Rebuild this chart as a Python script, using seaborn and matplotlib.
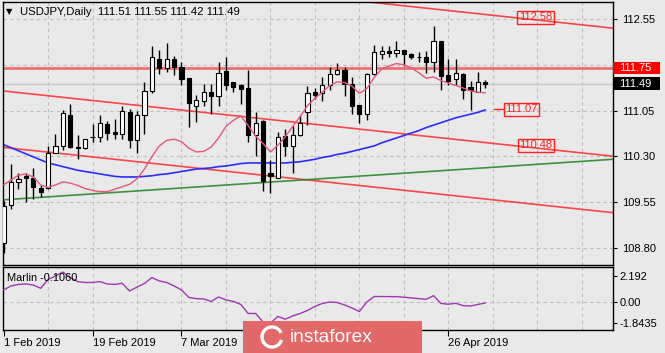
import numpy as np
import pandas as pd
import matplotlib
matplotlib.use("Agg")
import matplotlib.pyplot as plt
import matplotlib.transforms as mtransforms
from matplotlib.patches import Rectangle, Arc
import seaborn as sns

# ---------------- data ----------------
dates = pd.bdate_range("2019-02-01", "2019-05-03")
opens = [108.87, 109.50, 109.87, 109.97, 109.95, 109.78, 109.78, 110.35, 110.47, 110.98,
         110.45, 110.44, 110.62, 110.62, 110.83, 110.70, 110.67, 111.03, 110.57, 110.97,
         111.37, 111.90, 111.74, 111.89, 111.76, 111.58, 111.12, 111.21, 111.35, 111.29,
         111.69, 111.51, 111.46, 111.42, 110.65, 110.87, 110.03, 109.95, 110.63, 110.46,
         110.65, 111.02, 111.35, 111.34, 111.47, 111.65, 111.72, 111.48, 111.14, 111.00,
         111.65, 111.97, 112.02, 112.00, 112.04, 111.98, 111.93, 111.92, 111.85, 112.19,
         111.63, 111.56, 111.65, 111.43, 111.36, 111.51]
highs = [109.57, 110.18, 110.03, 110.03, 110.10, 109.83, 110.47, 110.67, 111.06, 111.15,
         110.65, 110.59, 110.83, 110.97, 110.87, 110.91, 111.13, 111.07, 111.05, 111.51,
         112.10, 112.05, 112.16, 111.94, 111.84, 111.58, 111.31, 111.48, 111.49, 111.84,
         111.92, 111.51, 111.48, 111.71, 111.02, 110.90, 110.24, 110.70, 110.75, 110.80,
         110.97, 111.45, 111.42, 111.60, 111.76, 111.83, 111.76, 111.60, 111.14, 111.67,
         112.12, 112.10, 112.10, 112.19, 112.04, 111.99, 112.01, 112.03, 112.43, 112.19,
         111.90, 111.90, 111.67, 111.54, 111.68, 111.55]
lows = [108.71, 109.43, 109.76, 109.55, 109.60, 109.64, 109.77, 110.35, 110.41, 110.44,
        110.25, 110.42, 110.53, 110.54, 110.56, 110.58, 110.58, 110.44, 110.35, 110.67,
        111.33, 111.65, 111.68, 111.63, 111.47, 110.78, 110.86, 111.13, 111.00, 111.13,
        111.38, 111.35, 111.16, 110.54, 110.30, 109.73, 109.70, 109.95, 110.30, 110.03,
        110.64, 110.82, 111.24, 111.21, 111.38, 111.64, 111.29, 111.00, 110.85, 110.90,
        111.63, 111.90, 111.93, 111.93, 111.78, 111.90, 111.85, 111.67, 111.68, 111.38,
        111.46, 111.46, 111.24, 111.06, 111.35, 111.42]
closes = [109.48, 109.87, 109.93, 109.95, 109.80, 109.72, 110.36, 110.46, 111.01, 110.45,
          110.44, 110.59, 110.61, 110.85, 110.68, 110.67, 111.05, 110.57, 110.98, 111.37,
          111.92, 111.74, 111.89, 111.76, 111.56, 111.17, 111.23, 111.35, 111.29, 111.67,
          111.47, 111.43, 111.41, 110.65, 110.85, 109.90, 109.98, 110.62, 110.46, 110.65,
          110.85, 111.34, 111.31, 111.47, 111.65, 111.72, 111.49, 111.13, 111.00, 111.65,
          112.01, 112.03, 112.00, 112.05, 111.97, 111.92, 111.92, 111.85, 112.19, 111.61,
          111.54, 111.66, 111.39, 111.38, 111.52, 111.49]
ma_fast = [109.83, 109.91, 109.99, 110.01, 109.96, 109.83, 109.79, 109.83, 109.88, 109.86,
           109.82, 109.77, 109.74, 109.72, 109.72, 109.76, 109.80, 109.84, 109.93, 110.09,
           110.29, 110.47, 110.56, 110.58, 110.54, 110.43, 110.37, 110.38, 110.45, 110.60,
           110.79, 110.89, 110.96, 110.80, 110.63, 110.51, 110.37, 110.48, 110.62, 110.79,
           110.95, 111.13, 111.25, 111.35, 111.46, 111.52, 111.51, 111.45, 111.33, 111.41,
           111.59, 111.73, 111.78, 111.82, 111.80, 111.75, 111.67, 111.58, 111.60, 111.54,
           111.50, 111.46, 111.42, 111.37, 111.35, 111.34]
ma_slow = [110.49, 110.44, 110.39, 110.34, 110.29, 110.24, 110.19, 110.16, 110.13, 110.10,
           110.07, 110.05, 110.03, 110.01, 109.99, 109.97, 109.96, 109.96, 109.96, 109.97,
           109.98, 110.00, 110.01, 110.03, 110.05, 110.07, 110.09, 110.10, 110.11, 110.13,
           110.14, 110.16, 110.18, 110.19, 110.19, 110.19, 110.19, 110.19, 110.19, 110.20,
           110.21, 110.23, 110.25, 110.28, 110.30, 110.33, 110.35, 110.38, 110.41, 110.44,
           110.47, 110.52, 110.56, 110.60, 110.64, 110.68, 110.72, 110.77, 110.81, 110.85,
           110.89, 110.93, 110.96, 110.99, 111.02, 111.06]
marlin = [1.00, 1.34, 1.47, 1.51, 1.42, 1.14, 1.89, 2.19, 2.53, 2.06,
          1.71, 1.64, 1.64, 1.71, 1.51, 1.47, 1.57, 0.91, 1.25, 1.55,
          2.06, 1.77, 1.64, 1.34, 1.00, 0.36, 0.26, 0.23, 0.02, 0.40,
          0.15, 0.02, -0.24, -1.01, -1.01, -1.73, -1.84, -1.26, -1.50, -1.22,
          -1.01, -0.75, -0.41, -0.15, -0.03, -0.07, -0.28, -0.54, -0.84, -0.03,
          0.44, 0.44, 0.43, 0.43, 0.38, 0.32, 0.26, 0.20, 0.51, -0.15,
          -0.22, -0.14, -0.34, -0.37, -0.24, -0.106]

# trend lines: value at bar index line_idx[0] and line_idx[1]
line_idx = [0, 82.2]
upper_channel = [113.47, 112.40]
middle_channel = [111.37, 110.30]
lower_channel = [110.445, 109.375]
support_line = [109.586, 110.25]
resistance_level = 111.75
bid_price = 111.49
label_values = [112.58, 111.07, 110.48]

price_ticks = [108.80, 109.55, 110.30, 111.05, 111.80, 112.55]
price_tick_labels = ["108.80", "109.55", "110.30", "111.05", "", "112.55"]  # 111.80 hidden under the 111.75 box
marlin_ticks = [2.192, 0.0, -1.8435]
marlin_tick_labels = ["2.192", "0.00", "-1.8435"]
date_tick_idx = [0, 12, 24, 60]
title = "USDJPY,Daily  111.51 111.55 111.42 111.49"

# ---------------- style ----------------
BG = "#e9e9e9"
sns.set_style("white", rc={"axes.facecolor": BG, "figure.facecolor": BG})
plt.rcParams["font.family"] = ["Liberation Sans", "DejaVu Sans"]

W, H = 665, 353
fig = plt.figure(figsize=(W / 100, H / 100), dpi=100)
fig.patch.set_facecolor(BG)


def px_axes(l, t, r, b):
    return fig.add_axes([l / W, 1 - b / H, (r - l) / W, (b - t) / H])


ax = px_axes(2.5, 2, 612.5, 265)
axi = px_axes(2.5, 267, 612.5, 330)
XMIN, XMAX = -0.15, 82.15
for a in (ax, axi):
    a.set_xlim(XMIN, XMAX)
    a.set_facecolor(BG)
    for s in a.spines.values():
        s.set_color("black")
        s.set_linewidth(1.0)
ax.set_ylim(108.517, 112.829)
axi.set_ylim(-2.42, 2.96)

GRID = dict(color="#bdbdbd", lw=0.8, ls=(0, (3, 3)), zorder=0)
for yv in price_ticks:
    ax.axhline(yv, **GRID)
for xv in range(6, 83, 6):
    ax.axvline(xv, **GRID)
    axi.axvline(xv, **GRID)
axi.axhline(0, **GRID)

# ---------------- candles ----------------
df = pd.DataFrame({"date": dates, "o": opens, "h": highs, "l": lows, "c": closes,
                   "fast": ma_fast, "slow": ma_slow, "marlin": marlin})
df["i"] = np.arange(len(df))
o, h, l, c = df.o.values, df.h.values, df.l.values, df.c.values
xi = df.i.values
up = c >= o
ax.vlines(xi, l, h, color="black", lw=1.0, zorder=3)
bottom = np.minimum(o, c)
height = np.maximum(np.abs(c - o), 0.004)
ax.bar(xi, height, bottom=bottom, width=0.56,
       color=np.where(up, "white", "black"), edgecolor="black", linewidth=0.8, zorder=4)

# ---------------- lines ----------------
ax.axhline(bid_price, color="#c6c6c6", lw=1.0, zorder=1)
ax.axhline(resistance_level, color="#f04848", lw=2.0, alpha=0.75, zorder=2)
for vals in (upper_channel, middle_channel, lower_channel):
    ax.plot(line_idx, vals, color="#ff2a2a", lw=1.2, alpha=0.85, zorder=2)
ax.plot(line_idx, support_line, color="#2a8a2a", lw=1.2, alpha=0.9, zorder=2)

sns.lineplot(data=df, x="i", y="slow", ax=ax, color="#2c2cff", lw=1.2, zorder=2, legend=False)
sns.lineplot(data=df, x="i", y="fast", ax=ax, color="#e5587a", lw=1.0, zorder=5, legend=False)
sns.lineplot(data=df, x="i", y="marlin", ax=axi, color="#a236b4", lw=1.0, zorder=3, legend=False)

# on-chart price labels
lab_pos = [71.8, 69.9, 71.8]
for v, xp in zip(label_values, lab_pos):
    ax.text(xp, v, f"{v:.2f}", color="#ff2020", fontsize=8, ha="center", va="center", zorder=8,
            bbox=dict(boxstyle="square,pad=0.15", fc="none", ec="#ff2020", lw=1.0))
ax.plot([66.1, 67.5], [label_values[1], label_values[1]], color="#ff2020", lw=1.0, zorder=8)

# ---------------- axes / ticks ----------------
ax.set_xlabel(""); ax.set_ylabel("")
axi.set_xlabel(""); axi.set_ylabel("")
ax.yaxis.tick_right()
ax.set_yticks(price_ticks)
ax.set_yticklabels(price_tick_labels)
ax.set_xticks([])
ax.tick_params(axis="y", which="both", right=True, left=False, length=3, width=0.8,
               direction="out", pad=4, labelsize=8, colors="black")

axi.yaxis.tick_right()
axi.set_yticks(marlin_ticks)
axi.set_yticklabels(marlin_tick_labels)
axi.tick_params(axis="y", right=True, left=False, length=3, width=0.8, direction="out",
                pad=2, labelsize=8, colors="black")
axi.set_xticks(date_tick_idx)
axi.set_xticklabels([f"{d.day} {d.strftime('%b %Y')}" for d in dates[date_tick_idx]])
axi.tick_params(axis="x", bottom=True, length=4, width=0.8, direction="out", pad=2,
                labelsize=8, colors="black")
for t in axi.get_xticklabels():
    t.set_ha("left")

# right-side price boxes
trans = mtransforms.blended_transform_factory(ax.transAxes, ax.transData)
bw = 47 / 610
bh = 12.5 / 61
for val, col in ((resistance_level, "#ff0000"), (bid_price, "#000000")):
    ax.add_patch(Rectangle((1.0015, val - bh / 2), bw, bh, transform=trans,
                           fc=col, ec="none", clip_on=False, zorder=20))
    ax.text(1.0015 + 6 / 610, val, f"{val:.2f}", transform=trans, color="white",
            fontsize=8, ha="left", va="center", clip_on=False, zorder=21)

# header texts
fig.text(6 / W, 1 - 12 / H, "\u25bc", fontsize=6, va="center", ha="left",
         family=["DejaVu Sans"], color="black")
fig.text(20 / W, 1 - 12 / H, title, fontsize=8.2, va="center", ha="left", color="black")
fig.text(7 / W, 1 - 278 / H, "Marlin -0.1060", fontsize=7.9, va="center", ha="left",
         color="black", zorder=5)

# watermark logo
fig.add_artist(Rectangle((243 / W, 0), (422 - 243) / W, 32 / H, transform=fig.transFigure,
                         fc="#e36868", ec="none", zorder=30))
fig.add_artist(Arc((272 / W, 1 - 337 / H), 20 / W, 20 / H, theta1=40, theta2=330,
                   transform=fig.transFigure, color="white", lw=2.4, zorder=31))
fig.text(290 / W, 1 - 337 / H, "instaforex", fontsize=13.8, color="white", va="center",
         ha="left", zorder=32)

fig.savefig("out.png", dpi=100, facecolor=BG)
